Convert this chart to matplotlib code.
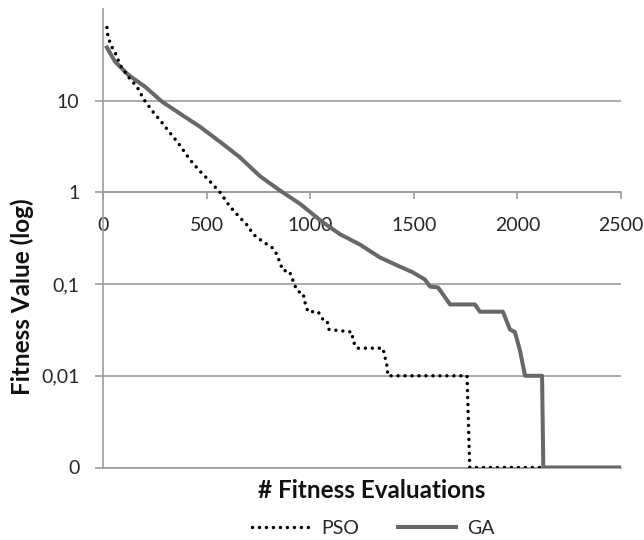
import matplotlib
matplotlib.use('Agg')
import matplotlib.pyplot as plt
from matplotlib.ticker import FixedLocator, NullLocator
from matplotlib.lines import Line2D

# ---- data ----
pso_x = [19, 24, 39, 63, 82, 121, 164, 198, 241, 285, 323, 362, 420, 468, 516, 565,
         613, 661, 700, 724, 772, 816, 840, 854, 869, 898, 912, 922, 941, 965, 975,
         989, 1038, 1062, 1081, 1091, 1202, 1206, 1226, 1351, 1361, 1371, 1375, 1757,
         1770, 2120]
pso_y = [62.8, 50, 40, 31.8, 24.7, 18.3, 14.2, 10.25, 7.58, 5.75, 4.47, 3.48, 2.27,
         1.70, 1.32, 1.0, 0.70, 0.53, 0.43, 0.35, 0.29, 0.25, 0.21, 0.17, 0.14, 0.14,
         0.118, 0.10, 0.083, 0.08, 0.063, 0.05, 0.05, 0.041, 0.04, 0.032, 0.03, 0.024,
         0.02, 0.02, 0.016, 0.0126, 0.01, 0.01, 0.001, 0.001]

ga_x = [19, 58, 121, 203, 285, 381, 468, 565, 661, 758, 854, 951, 1062, 1144, 1240,
        1337, 1433, 1496, 1554, 1578, 1617, 1675, 1795, 1819, 1930, 1964, 1988, 2012,
        2037, 2119, 2125, 2500]
ga_y = [38, 26.7, 19.2, 14.2, 9.75, 7.0, 5.2, 3.56, 2.41, 1.5, 1.05, 0.75, 0.47, 0.35,
        0.27, 0.195, 0.155, 0.134, 0.112, 0.094, 0.092, 0.06, 0.06, 0.05, 0.05, 0.032,
        0.03, 0.019, 0.01, 0.01, 0.001, 0.001]

series_names = ['PSO', 'GA']
y_ticks = [0.001, 0.01, 0.1, 1, 10]
y_tick_labels = ['0', '0,01', '0,1', '1', '10']
x_ticks = [0, 500, 1000, 1500, 2000, 2500]
x_tick_labels = ['0', '500', '1000', '1500', '2000', '2500']

plt.rcParams['font.family'] = ['Lato', 'DejaVu Sans']

gridc = '#9c9c9c'
textc = '#262630'
ga_color = '#686868'
fs = 14
title_fs = 17.5
dot_style = (0, (0.01, 2.0))
dot_lw = 2.5

fig = plt.figure(figsize=(6.44, 5.4), dpi=100)
ax = fig.add_axes([103/644, 1 - 467.5/540, 518/644, 458.5/540])

ax.plot(ga_x, ga_y, color=ga_color, lw=2.9, solid_joinstyle='round', zorder=3)
ax.plot(pso_x, pso_y, color='black', lw=dot_lw, linestyle=dot_style,
        dash_capstyle='round', zorder=4)

ax.set_yscale('log')
ax.set_xlim(0, 2500)
ax.set_ylim(0.001, 100)
ax.yaxis.set_major_locator(FixedLocator(y_ticks))
ax.yaxis.set_minor_locator(NullLocator())
ax.set_yticklabels(y_tick_labels)
ax.set_xticks(x_ticks)
ax.set_xticklabels(x_tick_labels)

ax.grid(axis='y', color=gridc, lw=1.2, zorder=0)
ax.axhline(0.001, color=gridc, lw=1.2, clip_on=False, zorder=1)
ax.set_axisbelow(True)

for s in ['top', 'right']:
    ax.spines[s].set_visible(False)
ax.spines['bottom'].set_position(('data', 1))
ax.spines['bottom'].set_color(gridc)
ax.spines['bottom'].set_linewidth(1.2)
ax.spines['left'].set_color(gridc)
ax.spines['left'].set_linewidth(1.2)

ax.tick_params(axis='y', length=6, width=1.2, color=gridc, labelcolor=textc,
               pad=11, labelsize=fs)
ax.tick_params(axis='x', direction='out', length=5, width=1.2, color=gridc,
               labelcolor=textc, pad=13, labelsize=fs)

fig.text(22/644, 1 - 297/540, 'Fitness Value (log)', rotation=90, ha='center',
         va='center', fontsize=title_fs, fontweight='bold', color='#111111')
fig.text(372/644, 1 - 490/540, '# Fitness Evaluations', ha='center', va='center',
         fontsize=title_fs, fontweight='bold', color='#111111')

handles = [Line2D([], [], color='black', lw=dot_lw, linestyle=dot_style,
                  dash_capstyle='round'),
           Line2D([], [], color=ga_color, lw=2.9)]
fig.legend(handles, series_names, loc='center', bbox_to_anchor=(373/644, 1 - 528/540),
           ncol=2, frameon=False, handlelength=3.0, handletextpad=0.55,
           columnspacing=2.0, fontsize=fs, labelcolor=textc)

fig.savefig('out.png', dpi=100, facecolor='white')
